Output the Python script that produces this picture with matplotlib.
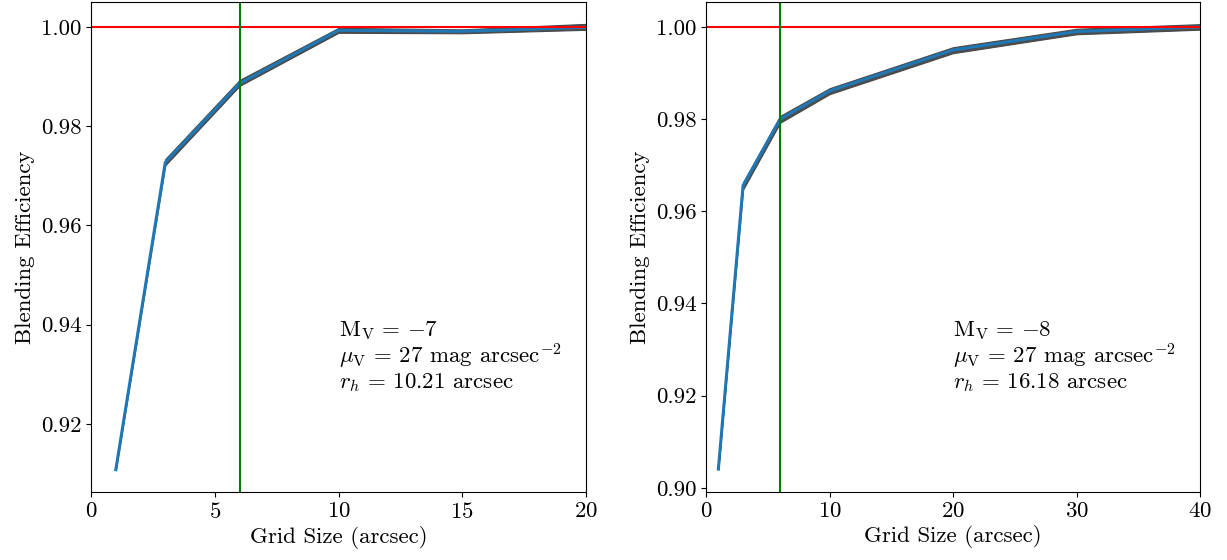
import matplotlib
matplotlib.use('Agg')
import matplotlib.pyplot as plt

plt.rcParams['font.family'] = 'serif'
plt.rcParams['font.serif'] = ['cmr10']
plt.rcParams['mathtext.fontset'] = 'cm'
plt.rcParams['axes.formatter.use_mathtext'] = True
plt.rcParams['font.size'] = 16.5

# left panel: M_V = -7
grid_a = [1, 3, 6, 10, 15, 20]
eff_a = [0.9108, 0.9727, 0.9886, 0.9993, 0.9991, 0.9999]
lo_a = [0.9107, 0.9721, 0.9881, 0.9988, 0.9987, 0.9994]
hi_a = [0.9109, 0.9734, 0.9893, 0.9998, 0.9995, 1.0006]

# right panel: M_V = -8
grid_b = [1, 3, 6, 10, 20, 30, 40]
eff_b = [0.9041, 0.9656, 0.9800, 0.9861, 0.9950, 0.9990, 1.0000]
lo_b = [0.9040, 0.9647, 0.9792, 0.9854, 0.9943, 0.9984, 0.9994]
hi_b = [0.9042, 0.9663, 0.9807, 0.9867, 0.9956, 0.9996, 1.0006]

labels = [
    '$\\mathrm{M_V} \\,=\\, {-7}$\n$\\mu_{\\rm V} \\,=\\, 27$ mag arcsec$^{-2}$\n$r_h \\,=\\, 10.21$ arcsec',
    '$\\mathrm{M_V} \\,=\\, {-8}$\n$\\mu_{\\rm V} \\,=\\, 27$ mag arcsec$^{-2}$\n$r_h \\,=\\, 16.18$ arcsec',
]

fig = plt.figure(figsize=(12.27, 5.6), dpi=100)
ax1 = fig.add_axes([0.0742, 0.1214, 0.4034, 0.875])
ax2 = fig.add_axes([0.5754, 0.1214, 0.4026, 0.875])

panels = [
    (ax1, grid_a, eff_a, lo_a, hi_a, (0, 20), (0.9063, 1.005), [0.92, 0.94, 0.96, 0.98, 1.00], [0, 5, 10, 15, 20]),
    (ax2, grid_b, eff_b, lo_b, hi_b, (0, 40), (0.8991, 1.0054), [0.90, 0.92, 0.94, 0.96, 0.98, 1.00], [0, 10, 20, 30, 40]),
]

for i, (ax, x, y, lo, hi, xl, yl, yt, xt) in enumerate(panels):
    ax.fill_between(x, lo, hi, color='#444444', lw=0.8, edgecolor='#444444', alpha=0.95)
    ax.plot(x, y, color='tab:blue', lw=2.2)
    ax.axhline(1.0, color='red', lw=1.5)
    ax.axvline(6, color='green', lw=1.5)
    ax.set_xlim(*xl)
    ax.set_ylim(*yl)
    ax.set_yticks(yt)
    ax.set_yticklabels(['%.2f' % v for v in yt])
    ax.set_xticks(xt)
    ax.set_xlabel('Grid Size (arcsec)', labelpad=3)
    ax.set_ylabel('Blending Efficiency')
    ax.text(0.5, 0.2, labels[i], transform=ax.transAxes, va='bottom', ha='left', linespacing=1.0)

plt.savefig('out.png', dpi=100)
plt.close()
